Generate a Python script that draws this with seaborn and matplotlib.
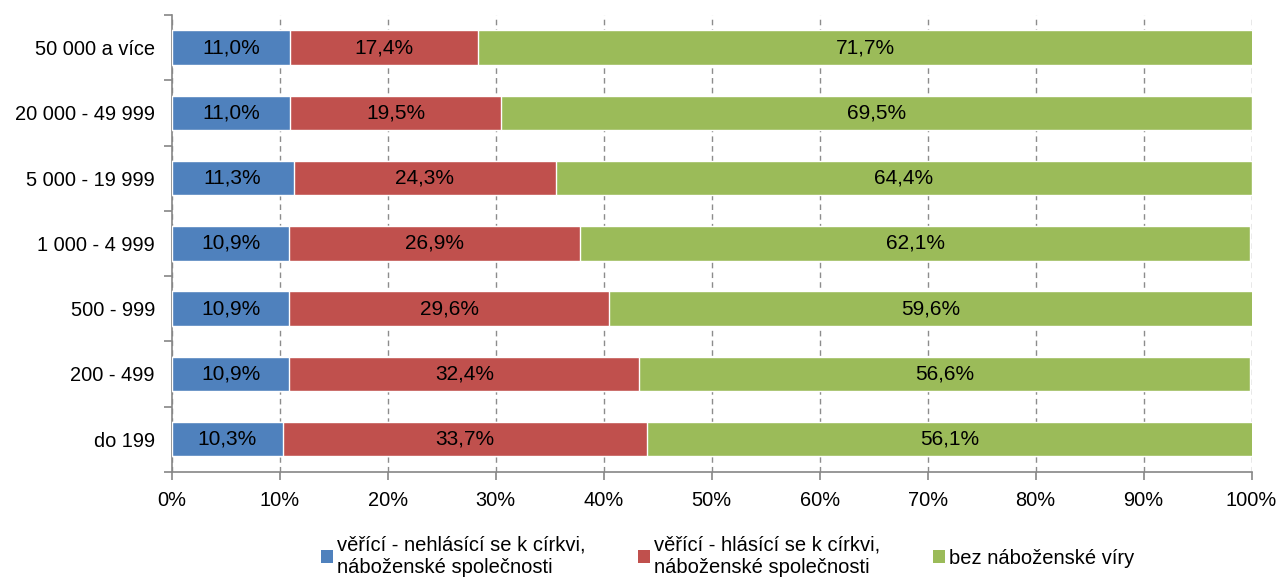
import numpy as np
import pandas as pd
import matplotlib.pyplot as plt
import seaborn as sns
from matplotlib.patches import Patch

categories = ["50 000 a více", "20 000 - 49 999", "5 000 - 19 999", "1 000 - 4 999",
              "500 - 999", "200 - 499", "do 199"]
nehlasici = [11.0, 11.0, 11.3, 10.9, 10.9, 10.9, 10.3]
hlasici = [17.4, 19.5, 24.3, 26.9, 29.6, 32.4, 33.7]
bez_viry = [71.7, 69.5, 64.4, 62.1, 59.6, 56.6, 56.1]
series_names = ["věřící - nehlásící se k církvi,\nnáboženské společnosti",
                "věřící - hlásící se k církvi,\nnáboženské společnosti",
                "bez náboženské víry"]
colors = ["#4F81BD", "#C0504D", "#9BBB59"]

sns.set_style("white")
plt.rcParams['font.family'] = ['Liberation Sans', 'DejaVu Sans']
plt.rcParams['text.color'] = 'black'

df = pd.DataFrame({"kat": categories, "a": nehlasici, "b": hlasici, "c": bez_viry})
df["cum_a"] = df["a"]
df["cum_b"] = df["a"] + df["b"]
df["cum_c"] = df["cum_b"] + df["c"]

fig = plt.figure(figsize=(12.81, 5.81), dpi=100)
ax = fig.add_axes([0.134, 0.188, 0.843, 0.786])

# stacked: draw largest cumulative first
for col, color in [("cum_c", colors[2]), ("cum_b", colors[1]), ("cum_a", colors[0])]:
    sns.barplot(data=df, x=col, y="kat", color=color, width=0.53, orient="h",
                saturation=1, ax=ax, zorder=3)

# segment labels
for i in range(len(categories)):
    starts = [0, df["cum_a"][i], df["cum_b"][i]]
    vals = [nehlasici[i], hlasici[i], bez_viry[i]]
    for s, v in zip(starts, vals):
        ax.text(s + v / 2, i, f"{v:.1f}%".replace(".", ","), ha="center", va="center",
                fontsize=15, color="black", zorder=4)

ax.set_xlim(0, 100)
ax.set_ylim(len(categories) - 0.5, -0.5)
ax.set_xticks(np.arange(0, 101, 10))
ax.set_xticklabels([f"{t}%" for t in range(0, 101, 10)])
ax.set_xlabel("")
ax.set_ylabel("")
ax.set_yticks(np.arange(-0.5, len(categories), 1), minor=True)
ax.tick_params(axis="y", which="major", left=True, length=0, pad=12, labelsize=14.4,
               labelcolor="black")
ax.tick_params(axis="y", which="minor", left=True, length=6, width=1.2,
               color="#868686", direction="out")
ax.tick_params(axis="x", which="major", bottom=True, length=6, width=1.2,
               color="#868686", direction="out", pad=8, labelsize=14.4,
               labelcolor="black")
ax.grid(axis="x", linestyle=(0, (4, 3)), color="#8c8c8c", linewidth=1, zorder=0)
ax.grid(axis="y", visible=False)
for side in ["top", "right"]:
    ax.spines[side].set_visible(False)
for side in ["left", "bottom"]:
    ax.spines[side].set_color("#868686")
    ax.spines[side].set_linewidth(1.2)

handles = [Patch(facecolor=c, edgecolor="none") for c in colors]
fig.legend(handles, series_names, loc="upper center", bbox_to_anchor=(0.568, 0.078),
           ncol=3, frameon=False, fontsize=14.5, handlelength=0.6, handleheight=0.6,
           handletextpad=0.2, columnspacing=2.6, labelspacing=0.1, borderaxespad=0,
           borderpad=0, labelcolor="black")

fig.savefig("out.png", dpi=100)
